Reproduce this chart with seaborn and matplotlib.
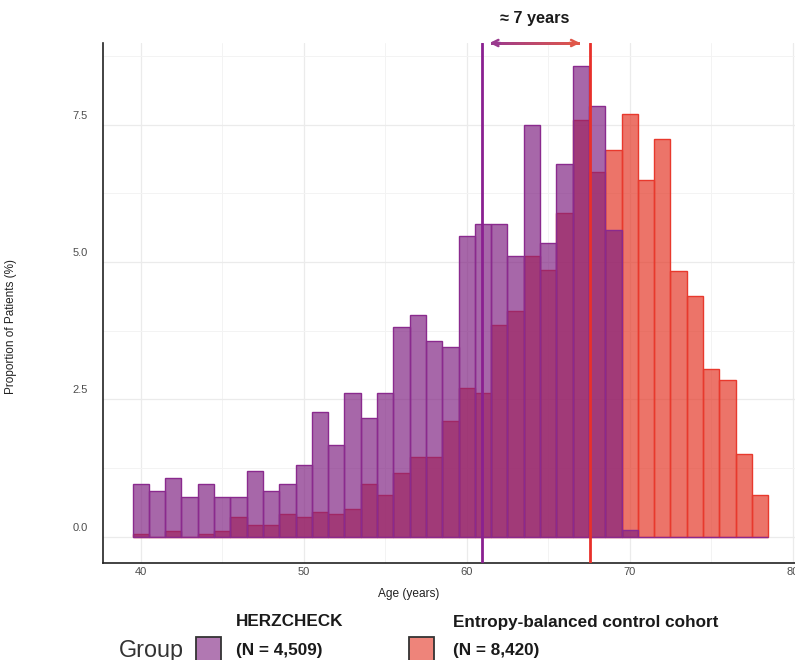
import numpy as np
import pandas as pd
import matplotlib
matplotlib.use("Agg")
import matplotlib.pyplot as plt
import matplotlib.transforms as mtransforms
from matplotlib.patches import Rectangle
from matplotlib.collections import LineCollection
from matplotlib.ticker import MultipleLocator, FixedLocator
from matplotlib.colors import to_rgba, to_rgb
import seaborn as sns

# ---------------- data ----------------
ages = list(range(40, 79))
herzcheck_pct = [0.96, 0.84, 1.08, 0.73, 0.96, 0.73, 0.73, 1.20, 0.84, 0.96,
                 1.31, 2.27, 1.68, 2.62, 2.16, 2.62, 3.81, 4.04, 3.57, 3.45,
                 5.47, 5.70, 5.70, 5.11, 7.49, 5.35, 6.78, 8.56, 7.84, 5.59,
                 0.12, 0.0, 0.0, 0.0, 0.0, 0.0, 0.0, 0.0, 0.0]
control_pct = [0.06, 0.0, 0.11, 0.0, 0.06, 0.11, 0.37, 0.21, 0.21, 0.41,
               0.37, 0.46, 0.41, 0.51, 0.96, 0.76, 1.16, 1.45, 1.45, 2.11,
               2.70, 2.61, 3.85, 4.10, 5.10, 4.85, 5.90, 7.59, 6.64, 7.04,
               7.69, 6.49, 7.24, 4.84, 4.39, 3.05, 2.85, 1.50, 0.76]
group_names = ["HERZCHECK", "Entropy-balanced control cohort"]
group_n = ["(N = 4,509)", "(N = 8,420)"]
group_means = [60.94, 67.57]
gap_label = "\u2248 7 years"
x_ticks = [40, 50, 60, 70, 80]
y_ticks = [0.0, 2.5, 5.0, 7.5]

purple_face = "#7E1F80"
purple_edge = "#8A2A8E"
red_face = "#E43322"
red_edge = "#E8392D"
purple_line = "#8A2090"
red_line = "#E8302A"

df = pd.DataFrame({
    "age": ages * 2,
    "pct": herzcheck_pct + control_pct,
    "group": [group_names[0]] * len(ages) + [group_names[1]] * len(ages),
})

# ---------------- figure ----------------
sns.set_theme(style="whitegrid")
plt.rcParams["font.family"] = ["Liberation Sans", "DejaVu Sans"]

W, H = 795, 660
fig = plt.figure(figsize=(W / 100, H / 100), dpi=100)
fig.patch.set_facecolor("white")

def fx(px):
    return px / W

def fy(py):
    return 1 - py / H

ax_l, ax_r, ax_t, ax_b = 103, 795, 43, 563
ax = fig.add_axes([fx(ax_l), fy(ax_b), fx(ax_r - ax_l), (ax_b - ax_t) / H])
ax.set_facecolor("white")

# control first, HERZCHECK on top
sub_c = df[df["group"] == group_names[1]]
sns.histplot(data=sub_c, x="age", weights="pct", binwidth=1, binrange=(39.5, 78.5),
             stat="count", color=red_face, ax=ax)
n_c = len(ax.patches)
sub_h = df[df["group"] == group_names[0]]
sns.histplot(data=sub_h, x="age", weights="pct", binwidth=1, binrange=(39.5, 78.5),
             stat="count", color=purple_face, ax=ax)
for i, p in enumerate(ax.patches):
    p.set_alpha(None)
    if i < n_c:
        p.set_facecolor(to_rgba(red_face, 0.68))
        p.set_edgecolor(red_edge)
    else:
        p.set_facecolor(to_rgba(purple_face, 0.68))
        p.set_edgecolor(purple_edge)
    p.set_linewidth(1.0)

ax.axvline(group_means[0], color=purple_line, lw=2.0, zorder=5)
ax.axvline(group_means[1], color=red_line, lw=2.0, zorder=5)

# axes ranges (ggplot-like expansion, right side cropped)
ax.set_xlim(37.69, 80.14)
ax.set_ylim(-0.473, 8.982)

ax.xaxis.set_major_locator(FixedLocator(x_ticks))
ax.yaxis.set_major_locator(FixedLocator(y_ticks))
ax.xaxis.set_minor_locator(MultipleLocator(5))
ax.yaxis.set_minor_locator(MultipleLocator(1.25))
ax.set_yticklabels([f"{v:.1f}" for v in y_ticks])
ax.set_xticklabels([str(v) for v in x_ticks])

ax.grid(which="major", color="#EBEBEB", lw=0.9)
ax.grid(which="minor", color="#F3F3F3", lw=0.7)
ax.set_axisbelow(True)

for s in ["top", "right"]:
    ax.spines[s].set_visible(False)
for s in ["left", "bottom"]:
    ax.spines[s].set_visible(True)
    ax.spines[s].set_color("#222222")
    ax.spines[s].set_linewidth(1.2)

ax.tick_params(axis="both", which="both", length=0, labelsize=8, labelcolor="#4D4D4D")
ax.tick_params(axis="x", pad=3)
ax.tick_params(axis="y", pad=11)
offset = mtransforms.ScaledTranslation(0, 10 / 100, fig.dpi_scale_trans)
for lab in ax.get_yticklabels():
    lab.set_transform(lab.get_transform() + offset)

ax.set_xlabel("Age (years)", fontsize=8.6, color="#222222")
ax.set_ylabel("Proportion of Patients (%)", fontsize=8.5, color="#222222")
ax.xaxis.set_label_coords((409 - ax_l) / (ax_r - ax_l), -(588 - ax_b) / (ax_b - ax_t))
ax.yaxis.set_label_coords(-(ax_l - 17) / (ax_r - ax_l), (ax_b - 327) / (ax_b - ax_t))

# gradient double arrow at the top
trans = mtransforms.blended_transform_factory(ax.transData, ax.transAxes)
xa0, xa1 = 61.45, 66.90
n_seg = 60
xs = np.linspace(xa0 + 0.1, xa1 - 0.1, n_seg + 1)
segs = [[(xs[i], 1.0), (xs[i + 1], 1.0)] for i in range(n_seg)]
c0 = np.array(to_rgb("#9A3A8E"))
c1 = np.array(to_rgb("#E0574A"))
cols = [tuple(c0 + (c1 - c0) * (i + 0.5) / n_seg) for i in range(n_seg)]
lc = LineCollection(segs, colors=cols, linewidths=1.8, transform=trans, clip_on=False,
                    zorder=6, capstyle="projecting", antialiaseds=False)
ax.add_collection(lc)
ax.annotate("", xy=(xa0 - 0.05, 1.0), xytext=(xa0 + 0.6, 1.0), xycoords=trans, textcoords=trans,
            arrowprops=dict(arrowstyle="->", color="#9A3A8E", lw=1.8, mutation_scale=11,
                            shrinkA=0, shrinkB=0), annotation_clip=False, zorder=6)
ax.annotate("", xy=(xa1 + 0.05, 1.0), xytext=(xa1 - 0.6, 1.0), xycoords=trans, textcoords=trans,
            arrowprops=dict(arrowstyle="->", color="#E0574A", lw=1.8, mutation_scale=11,
                            shrinkA=0, shrinkB=0), annotation_clip=False, zorder=6)
fig.text(fx(535), fy(19), gap_label, ha="center", va="center", fontsize=11.7,
         fontweight="bold", color="#1A1A1A")

# legend (manual)
fig.text(fx(119), fy(650), "Group", ha="left", va="center", fontsize=16.8, color="#333333")
sw_w, sw_h = 25, 25
for sx, face, name, nlab, tx in [(196, purple_face, group_names[0], group_n[0], 236),
                                 (409, red_face, group_names[1], group_n[1], 453)]:
    fig.patches.append(Rectangle((fx(sx), fy(637 + sw_h)), sw_w / W, sw_h / H,
                                 transform=fig.transFigure,
                                 facecolor=to_rgba(face, 0.6), edgecolor="#333333", lw=1.3))
    fig.text(fx(tx), fy(622), name, ha="left", va="center", fontsize=12.3,
             fontweight="bold", color="#1A1A1A")
    fig.text(fx(tx), fy(650), nlab, ha="left", va="center", fontsize=12.3,
             fontweight="bold", color="#1A1A1A")

fig.savefig("out.png", dpi=100)
